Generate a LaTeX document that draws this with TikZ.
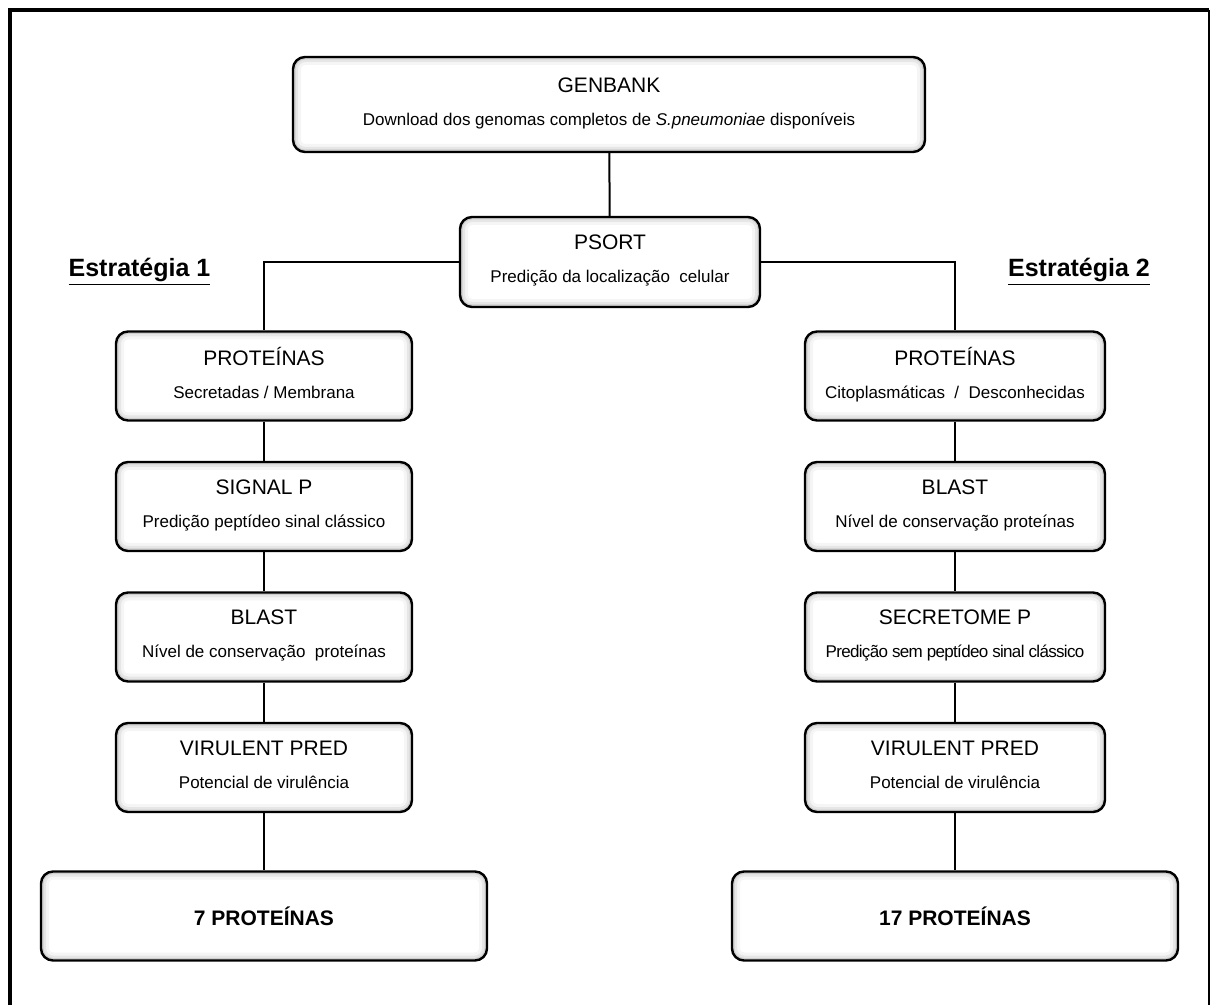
\documentclass[tikz,border=0pt]{standalone}
\usepackage{fontspec}
\setmainfont{Liberation Sans}
\usetikzlibrary{positioning}
\newcommand{\caixa}[2]{{\fontsize{10.5}{12}\selectfont #1}\\[4.5pt]{\fontsize{8.5}{10}\selectfont\strut #2}}

\begin{document}
\begin{tikzpicture}[x=0.5pt, y=-0.5pt,
  box/.style={rectangle, rounded corners=6pt, draw=black, line width=1.2pt, fill=white, align=center, inner sep=3pt, minimum width=148pt, minimum height=44.5pt,
    path picture={\foreach \w/\o in {8/0.04,5/0.06,2.5/0.1}
      \draw[line width=\w pt, black, opacity=\o, rounded corners=6pt] (path picture bounding box.south west) rectangle (path picture bounding box.north east);}},
  total/.style={box, minimum width=223pt, font=\fontsize{10.5}{12}\selectfont\bfseries},
  est/.style={font=\fontsize{12.5}{14}\selectfont\bfseries, inner sep=0pt},
  link/.style={line width=1pt, draw=black}]
\useasboundingbox (0,0) rectangle (1211,1005);
\draw[line width=2pt] (10,1005) -- (10,10) -- (1209,10);
\draw[line width=0.6pt] (1209,10) -- (1209,1005);

\node[box, minimum width=316pt, minimum height=47.5pt] (genbank) at (609,104.5) {\caixa{GENBANK}{Download dos genomas completos de \textit{S.pneumoniae} disponíveis}};
\node[box, minimum width=150pt, minimum height=45pt] (psort) at (610,262) {\caixa{PSORT}{Predição da localização \ celular}};

\node[est] (est1) at (139.5,272) {\underline{Estratégia 1}};
\node[est] (est2) at (1079,272) {\underline{Estratégia 2}};

% estrategia 1
\node[box] (protA) at (264,376) {\caixa{PROTEÍNAS}{Secretadas / Membrana}};
\node[box, below=19.55pt of protA] (signalp) {\caixa{SIGNAL P}{Predição peptídeo sinal clássico}};
\node[box, below=19.55pt of signalp] (blastA) {\caixa{BLAST}{Nível de conservação \ proteínas}};
\node[box, below=19.55pt of blastA] (virA) {\caixa{VIRULENT PRED}{Potencial de virulência}};
\node[total, below=28.55pt of virA] (totalA) {7 PROTEÍNAS};

% estrategia 2
\node[box, minimum width=150pt] (protB) at (955,376) {\caixa{PROTEÍNAS}{Citoplasmáticas \ / \ Desconhecidas}};
\node[box, minimum width=150pt, below=19.55pt of protB] (blastB) {\caixa{BLAST}{Nível de conservação proteínas}};
\node[box, minimum width=150pt, below=19.55pt of blastB] (secretome) {\caixa{SECRETOME P}{\addfontfeature{LetterSpace=-4}Predição sem peptídeo sinal clássico}};
\node[box, minimum width=150pt, below=19.55pt of secretome] (virB) {\caixa{VIRULENT PRED}{Potencial de virulência}};
\node[total, below=28.55pt of virB] (totalB) {17 PROTEÍNAS};

\draw[link] (genbank) -- (psort);
\draw[link] (psort.west) -| (protA.north);
\draw[link] (psort.east) -| (protB.north);
\draw[link] (protA) -- (signalp) (signalp) -- (blastA) (blastA) -- (virA) (virA) -- (totalA);
\draw[link] (protB) -- (blastB) (blastB) -- (secretome) (secretome) -- (virB) (virB) -- (totalB);
\end{tikzpicture}
\end{document}
